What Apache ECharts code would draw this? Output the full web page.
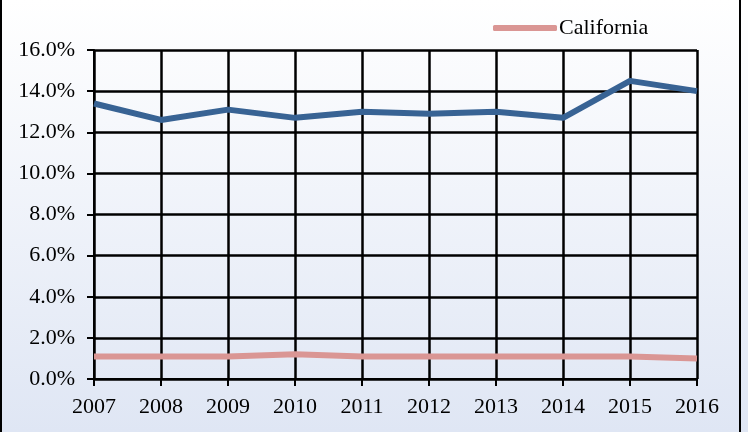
<!DOCTYPE html>
<html>
<head>
<meta charset="utf-8">
<script src="https://cdn.jsdelivr.net/npm/echarts@6/dist/echarts.min.js"></script>
<style>
  html, body { margin: 0; padding: 0; background: #fff; }
  #chart { width: 748px; height: 432px; }
</style>
</head>
<body>
<div id="chart"></div>
<script>
const years = ['2007', '2008', '2009', '2010', '2011', '2012', '2013', '2014', '2015', '2016']
const blueValues = [13.4, 12.6, 13.1, 12.7, 13.0, 12.9, 13.0, 12.7, 14.5, 14.0]
const californiaValues = [1.1, 1.1, 1.1, 1.2, 1.1, 1.1, 1.1, 1.1, 1.1, 1.0]
const yTicks = [0, 2, 4, 6, 8, 10, 12, 14, 16]

const font = "'Liberation Serif', 'Times New Roman', serif"

const chart = echarts.init(document.getElementById('chart'))

const option = {
  backgroundColor: {
    type: 'linear', x: 0, y: 0, x2: 0, y2: 1,
    colorStops: [
      { offset: 0, color: '#ffffff' },
      { offset: 1, color: '#dfe6f4' }
    ]
  },
  animation: false,
  graphic: [
    { type: 'rect', shape: { x: 0, y: 0, width: 2, height: 432 }, style: { fill: '#000' } },
    { type: 'rect', shape: { x: 739, y: 0, width: 2, height: 432 }, style: { fill: '#000' } }
  ],
  legend: {
    data: ['California'],
    left: 488,
    top: 12,
    icon: 'roundRect',
    itemWidth: 64,
    itemHeight: 6,
    itemGap: 4,
    textStyle: { fontFamily: font, fontSize: 22, color: '#000', padding: [0, 0, 0, -3] }
  },
  grid: { left: 94, right: 51, top: 50, bottom: 53 },
  xAxis: {
    type: 'category',
    data: years,
    boundaryGap: false,
    axisLine: { lineStyle: { color: '#000', width: 2 } },
    axisTick: { length: 7, lineStyle: { color: '#000', width: 2 } },
    axisLabel: { fontFamily: font, fontSize: 22, color: '#000', margin: 17 },
    splitLine: { show: true, lineStyle: { color: '#000', width: 2.5 } }
  },
  yAxis: {
    type: 'value',
    min: yTicks[0],
    max: yTicks[yTicks.length - 1],
    interval: 2,
    axisLine: { show: true, lineStyle: { color: '#000', width: 2 } },
    axisTick: { show: true, length: 7, lineStyle: { color: '#000', width: 2 } },
    axisLabel: {
      fontFamily: font, fontSize: 22, color: '#000', margin: 19,
      formatter: v => v.toFixed(1) + '%'
    },
    splitLine: { show: true, lineStyle: { color: '#000', width: 2.5 } }
  },
  series: [
    {
      name: 'Series',
      type: 'line',
      data: blueValues,
      symbol: 'none',
      lineStyle: { color: '#386394', width: 6 },
      itemStyle: { color: '#386394' }
    },
    {
      name: 'California',
      type: 'line',
      data: californiaValues,
      symbol: 'none',
      lineStyle: { color: '#da9694', width: 6 },
      itemStyle: { color: '#da9694' }
    }
  ]
}

chart.setOption(option)
</script>
</body>
</html>
